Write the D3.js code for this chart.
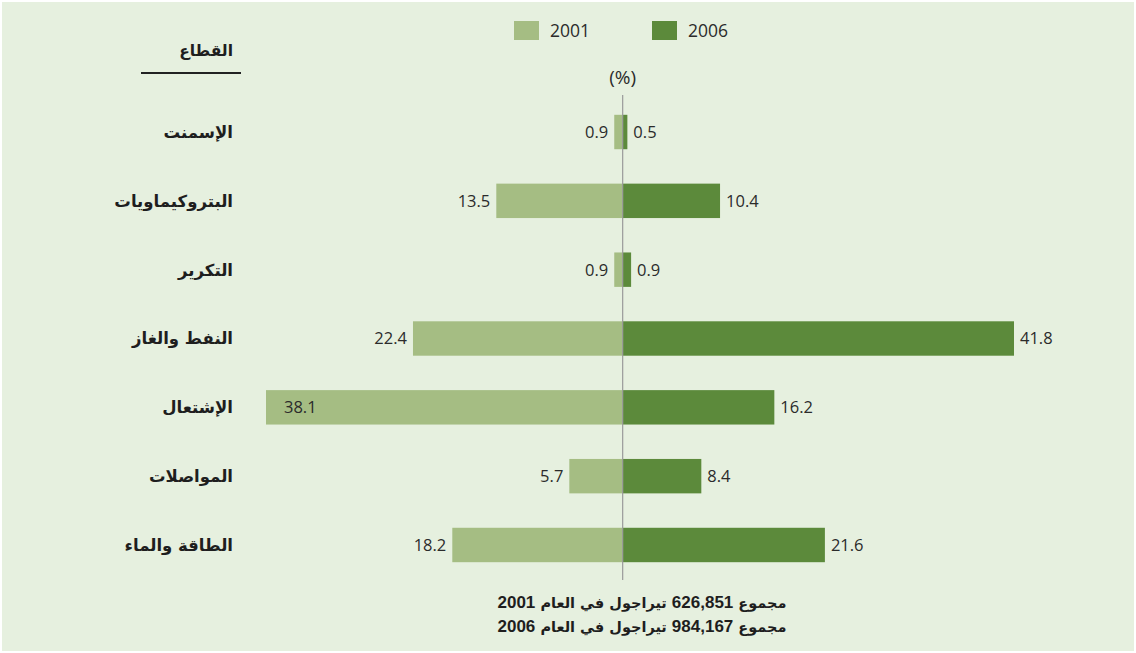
<!DOCTYPE html>
<html>
<head>
<meta charset="utf-8">
<script src="https://cdn.jsdelivr.net/npm/d3@7"></script>
<style>
  body { margin: 0; background: #ffffff; }
  svg { display: block; }
</style>
</head>
<body>
<div id="chart"></div>
<script>
// data
const sectors = ["الإسمنت", "البتروكيماويات", "التكرير", "النفط والغاز", "الإشتعال", "المواصلات", "الطاقة والماء"];
const values2001 = [0.9, 13.5, 0.9, 22.4, 38.1, 5.7, 18.2];
const values2006 = [0.5, 10.4, 0.9, 41.8, 16.2, 8.4, 21.6];
const years = ["2001", "2006"];
const totals = ["626,851", "984,167"];

const width = 1136, height = 653;
const colors = {"2001": "#a5bd83", "2006": "#5c8a3b"};
const arabicFont = "'DejaVu Sans', sans-serif";
const numFont = "'Open Sans', 'Noto Sans', sans-serif";

const svg = d3.select("#chart")
  .append("svg")
  .attr("width", width)
  .attr("height", height);

svg.append("rect")
  .attr("x", 2).attr("y", 2)
  .attr("width", width - 4).attr("height", height - 4)
  .attr("fill", "#e6f0df");

// scales
const x = d3.scaleLinear()
  .domain([-38.1, 41.8])
  .range([266, 1014]);

const y = d3.scaleBand()
  .domain(sectors)
  .range([97.6, 579.4])
  .paddingInner(0.5)
  .paddingOuter(0.25);

// bars 2001 (left)
svg.append("g")
  .selectAll("rect")
  .data(sectors)
  .join("rect")
  .attr("x", (d, i) => x(-values2001[i]))
  .attr("y", d => y(d))
  .attr("width", (d, i) => x(0) - x(-values2001[i]))
  .attr("height", y.bandwidth())
  .attr("fill", colors["2001"]);

// bars 2006 (right)
svg.append("g")
  .selectAll("rect")
  .data(sectors)
  .join("rect")
  .attr("x", x(0))
  .attr("y", d => y(d))
  .attr("width", (d, i) => x(values2006[i]) - x(0))
  .attr("height", y.bandwidth())
  .attr("fill", colors["2006"]);

// center line
svg.append("line")
  .attr("x1", x(0)).attr("x2", x(0))
  .attr("y1", 95).attr("y2", 580)
  .attr("stroke", "#999")
  .attr("stroke-width", 1.2);

// value labels
const maxLeft = d3.max(values2001);
svg.append("g")
  .selectAll("text")
  .data(sectors)
  .join("text")
  .attr("x", (d, i) => values2001[i] === maxLeft ? x(-values2001[i]) + 18 : x(-values2001[i]) - 6)
  .attr("y", d => y(d) + y.bandwidth() / 2)
  .attr("dy", "0.36em")
  .attr("text-anchor", (d, i) => values2001[i] === maxLeft ? "start" : "end")
  .attr("font-family", numFont)
  .attr("font-size", 16.5)
  .attr("fill", "#2b2b2b")
  .text((d, i) => values2001[i].toFixed(1));

svg.append("g")
  .selectAll("text")
  .data(sectors)
  .join("text")
  .attr("x", (d, i) => x(values2006[i]) + 6)
  .attr("y", d => y(d) + y.bandwidth() / 2)
  .attr("dy", "0.36em")
  .attr("text-anchor", "start")
  .attr("font-family", numFont)
  .attr("font-size", 16.5)
  .attr("fill", "#2b2b2b")
  .text((d, i) => values2006[i].toFixed(1));

// sector labels
svg.append("g")
  .selectAll("text")
  .data(sectors)
  .join("text")
  .attr("x", 233)
  .attr("y", d => y(d) + y.bandwidth() / 2)
  .attr("dy", "0.36em")
  .attr("text-anchor", "start")
  .attr("direction", "rtl")
  .attr("font-family", arabicFont)
  .attr("font-weight", "bold")
  .attr("font-size", 16.5)
  .attr("fill", "#1e1e1e")
  .text(d => d);

// header
svg.append("text")
  .attr("x", 233).attr("y", 50)
  .attr("dy", "0.36em")
  .attr("text-anchor", "start")
  .attr("direction", "rtl")
  .attr("font-family", arabicFont)
  .attr("font-weight", "bold")
  .attr("font-size", 15.5)
  .attr("fill", "#1e1e1e")
  .text("القطاع");

svg.append("line")
  .attr("x1", 141).attr("x2", 241)
  .attr("y1", 73).attr("y2", 73)
  .attr("stroke", "#222")
  .attr("stroke-width", 2);

svg.append("text")
  .attr("x", x(0)).attr("y", 77)
  .attr("dy", "0.36em")
  .attr("text-anchor", "middle")
  .attr("font-family", numFont)
  .attr("font-size", 19)
  .attr("fill", "#2b2b2b")
  .text("(%)");

// legend
const legend = svg.append("g")
  .selectAll("g")
  .data(years)
  .join("g")
  .attr("transform", (d, i) => "translate(" + (514 + i * 138) + ",21)");

legend.append("rect")
  .attr("width", 25).attr("height", 19)
  .attr("fill", d => colors[d]);

legend.append("text")
  .attr("x", 36).attr("y", 9.5)
  .attr("dy", "0.36em")
  .attr("font-family", numFont)
  .attr("font-size", 17.5)
  .attr("fill", "#2b2b2b")
  .text(d => d);

// totals
const foot = svg.append("g")
  .selectAll("text")
  .data(years)
  .join("text")
  .attr("x", 642)
  .attr("y", (d, i) => 603 + i * 24)
  .attr("dy", "0.36em")
  .attr("text-anchor", "middle")
  .attr("direction", "rtl")
  .attr("font-family", arabicFont)
  .attr("font-weight", "bold")
  .attr("font-size", 14.5)
  .attr("fill", "#1e1e1e");

foot.append("tspan").text("مجموع ");
foot.append("tspan")
  .attr("font-family", "'Liberation Sans', Arial, sans-serif")
  .attr("font-size", 17)
  .text((d, i) => totals[i]);
foot.append("tspan").text(" تيراجول في العام ");
foot.append("tspan")
  .attr("font-family", "'Liberation Sans', Arial, sans-serif")
  .attr("font-size", 17)
  .text(d => d);
</script>
</body>
</html>
